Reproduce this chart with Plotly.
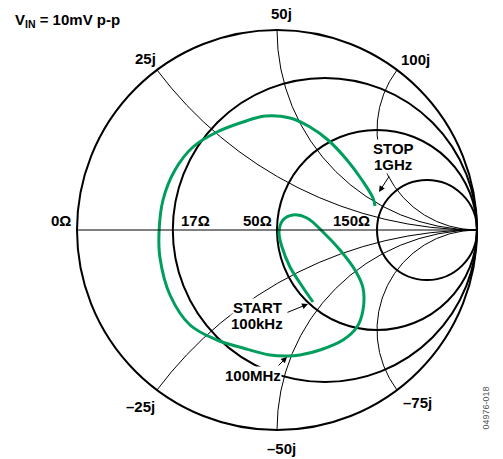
import numpy as np
import plotly.graph_objects as go

gamma_re = [0.18, 0.145, 0.115, 0.065, 0.025, 0.01, 0.03, 0.08, 0.15, 0.23, 0.315, 0.39,
            0.43, 0.43, 0.40, 0.33, 0.215, 0.115, 0.05, -0.035, -0.17, -0.30, -0.435,
            -0.535, -0.585, -0.59, -0.57, -0.51, -0.42, -0.30, -0.17, -0.06, 0.065,
            0.165, 0.255, 0.35, 0.425, 0.48, 0.49]
gamma_im = [-0.36, -0.31, -0.265, -0.185, -0.085, -0.01, 0.05, 0.075, 0.06, -0.01, -0.10,
            -0.20, -0.29, -0.40, -0.485, -0.55, -0.60, -0.625, -0.63, -0.625, -0.59,
            -0.55, -0.475, -0.325, -0.14, -0.015, 0.15, 0.30, 0.415, 0.49, 0.54, 0.57,
            0.56, 0.515, 0.45, 0.35, 0.25, 0.16, 0.12]

# Normalized (50 ohm) grid values
resistance_ticks = [0.315, 1, 3]
reactance_ticks = [-2, -1, -0.5, 0.5, 1, 2]

g = np.array(gamma_re) + 1j * np.array(gamma_im)
z = (1 + g) / (1 - g)

W, H = 503, 459
GREEN = "#009E5C"
FONT = "Liberation Sans, Arial, sans-serif"

fig = go.Figure()
fig.add_trace(go.Scattersmith(
    real=z.real, imag=z.imag, mode="lines",
    line=dict(color=GREEN, width=3, shape="spline"),
    showlegend=False, hoverinfo="skip", subplot="smith"))

def px(x):
    return x / W

def py(y):
    return 1 - y / H

labels = [
    ("V<sub>IN</sub> = 10mV p-p", 14, 20, "left", None),
    ("25j", 145, 58, "center", None),
    ("50j", 281, 14, "center", None),
    ("100j", 415, 59, "center", None),
    ("0Ω", 61, 220, "center", None),
    ("17Ω", 195, 220, "center", None),
    ("50Ω", 257, 220, "center", None),
    ("150Ω", 351, 220, "center", None),
    ("STOP", 393, 148, "center", "white"),
    ("1GHz", 393, 164, "center", "white"),
    ("START", 257, 307, "center", "white"),
    ("100kHz", 257, 323, "center", "white"),
    ("100MHz", 253, 375, "center", "white"),
    ("–25j", 140, 406, "center", None),
    ("–50j", 281, 448, "center", None),
    ("–75j", 417, 402, "center", None),
]

ann = []
for text, x, y, xa, bg in labels:
    ann.append(dict(
        text="<b>" + text + "</b>", x=px(x), y=py(y), xref="paper", yref="paper",
        xanchor=xa, yanchor="middle", showarrow=False,
        font=dict(family=FONT, size=15, color="black"),
        bgcolor=bg if bg else "rgba(0,0,0,0)", borderpad=0))

# arrows: head position, tail offset
arrows = [(379, 192, 11, -17), (308, 304, -22, 9), (287, 357, -10, 10)]
for hx, hy, ax, ay in arrows:
    ann.append(dict(
        text="", x=px(hx), y=py(hy), xref="paper", yref="paper",
        showarrow=True, ax=ax, ay=ay, axref="pixel", ayref="pixel",
        arrowhead=2, arrowsize=1.2, arrowwidth=1, arrowcolor="black", standoff=0))

ann.append(dict(
    text="04976-018", x=px(492), y=py(432), xref="paper", yref="paper",
    textangle=-90, showarrow=False,
    font=dict(family=FONT, size=9, color="#555555")))

fig.update_layout(
    width=W, height=H,
    margin=dict(l=0, r=0, t=0, b=0),
    paper_bgcolor="white",
    showlegend=False,
    smith=dict(
        domain=dict(x=[77 / W, 477 / W], y=[1 - 430 / H, 1 - 30 / H]),
        bgcolor="white",
        realaxis=dict(
            tickvals=resistance_ticks, showticklabels=False, ticks="",
            gridcolor="black", gridwidth=1.6, showline=True,
            linecolor="black", linewidth=1),
        imaginaryaxis=dict(
            tickvals=reactance_ticks, showticklabels=False, ticks="",
            gridcolor="black", gridwidth=1, showline=True,
            linecolor="black", linewidth=2),
    ),
    annotations=ann,
)

fig.write_html("out.html", config={"displayModeBar": False},
               post_script="document.body.style.margin='0';")
